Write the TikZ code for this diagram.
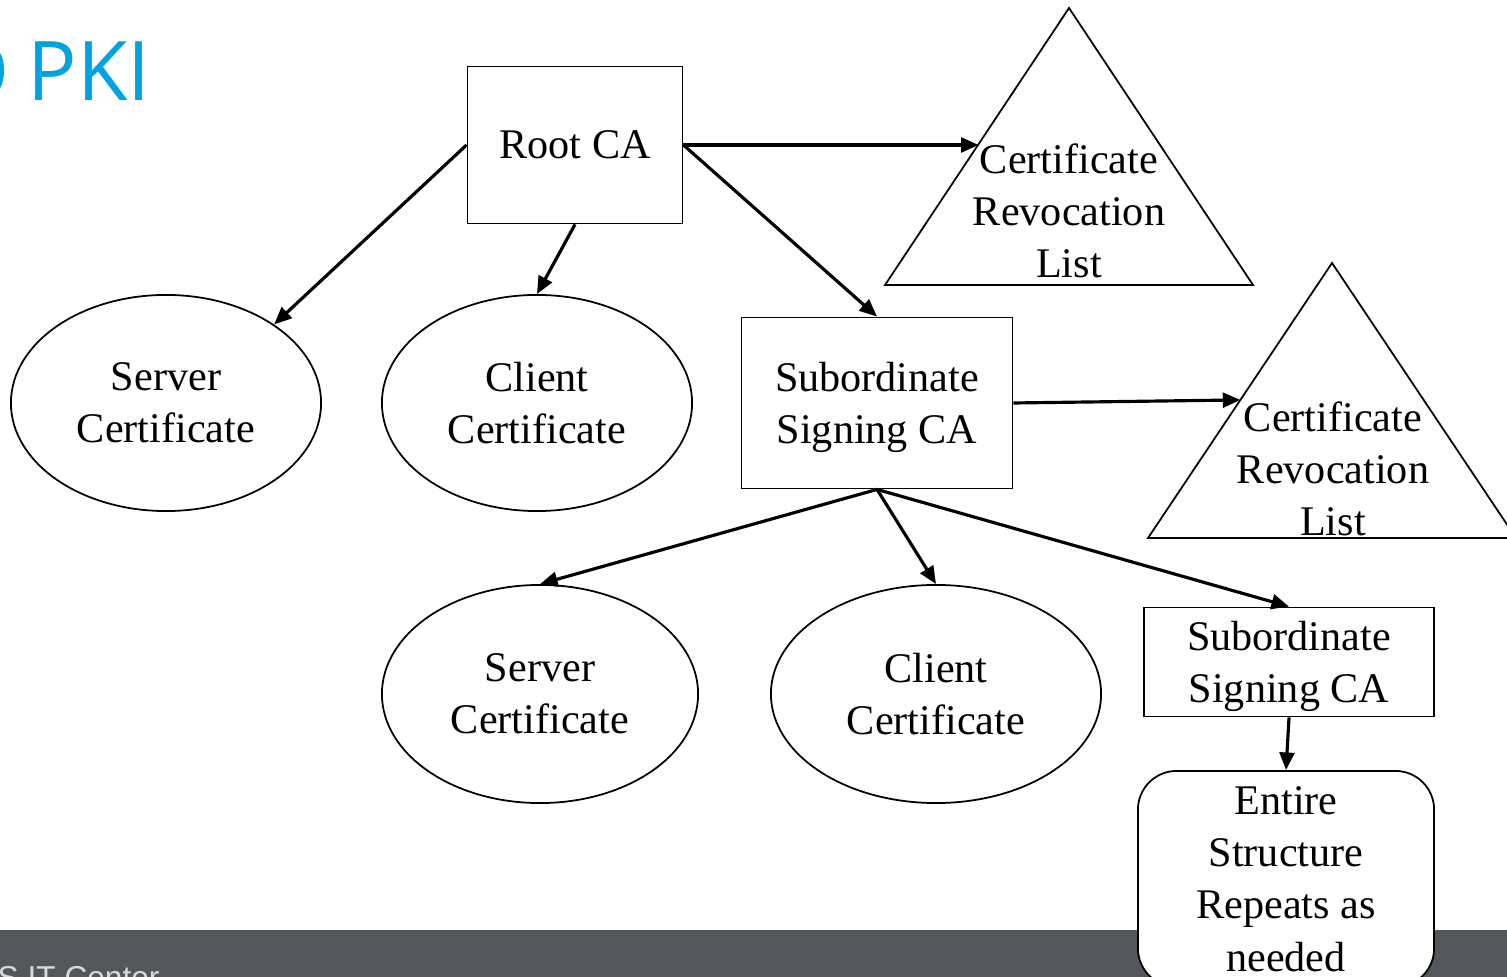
\documentclass[tikz,border=0pt]{standalone}
\usepackage{fontspec}
\setmainfont{Liberation Serif}
\newfontfamily\slidefont{Open Sans}
\newfontfamily\footfont{Liberation Sans}
\usetikzlibrary{shapes.geometric,arrows.meta,calc}
\definecolor{pkiblue}{HTML}{00A3E0}
\definecolor{bargray}{HTML}{53565B}
\definecolor{footgray}{HTML}{D9D9D9}
\tikzset{
  labeltext/.style={font=\fontsize{12pt}{14.8pt}\selectfont, align=center, inner sep=0pt},
  titletext/.style={text=pkiblue, inner sep=0pt, font=\slidefont\fontsize{23.4pt}{24pt}\selectfont},
  cabox/.style={draw, line width=0.5pt, fill=white, text depth=0pt, labeltext},
  cert/.style={ellipse, draw, line width=0.5pt, minimum width=3.1cm, minimum height=2.16cm, labeltext},
  crl/.style={draw, line width=0.5pt},
  link/.style={-{Triangle[length=5pt,width=4.2pt]}, line width=0.9pt},
}
\begin{document}
\begin{tikzpicture}[x=0.01cm,y=-0.01cm]
    \useasboundingbox (0,0) rectangle (1507,977);
    \fill[bargray] (0,930) rectangle (1507,977);
    \node[anchor=north west, text=footgray, inner sep=0pt, font=\footfont\fontsize{9pt}{9pt}\selectfont] (footer) at (-3,966) {S IT Center};
    \node[titletext, anchor=base east] (titlelead) at (10,101) {O};
    \node[titletext, anchor=base west] (title) at (27,101) {PKI};
    \node[cabox, minimum width=2.15cm, minimum height=1.57cm] (root) at (575,145) {Root CA};
    \node[cert] (srv1) at (166,403) {Server\\Certificate};
    \node[cert] (cli1) at (537,403) {Client\\Certificate};
    \node[cabox, minimum width=2.71cm, minimum height=1.71cm] (sub1) at (877,403) {Subordinate\\Signing CA};
    \node[cert, minimum width=3.16cm, minimum height=2.18cm] (srv2) at (540,694) {Server\\Certificate};
    \node[cert, minimum width=3.3cm, minimum height=2.18cm] (cli2) at (936,694) {Client\\Certificate};
    \node[cabox, minimum width=2.9cm, minimum height=1.09cm] (sub2) at (1289,662) {Subordinate\\Signing CA};
    \node[cabox, rounded corners=11pt, minimum width=2.96cm, minimum height=2.16cm] (rep) at (1286,879) {Entire\\Structure\\Repeats as\\needed};
    \draw[crl] (1069,8) coordinate (crl1top) -- (1253,285) coordinate (crl1right) -- (885,285) coordinate (crl1left) -- cycle;
    \node[labeltext] (crl1) at (1069,211) {Certificate\\Revocation\\List};
    \draw[crl] (1332,263) coordinate (crl2top) -- (1516,538) coordinate (crl2right) -- (1148,538) coordinate (crl2left) -- cycle;
    \node[labeltext] (crl2) at (1333,469) {Certificate\\Revocation\\List};
    \coordinate (crl1in) at ($(crl1top)!0.491!(crl1left)$);
    \coordinate (crl2in) at ($(crl2top)!0.498!(crl2left)$);
    \draw[link] (root.west) -- (srv1.36);
    \draw[link] (root.south) -- (cli1.north);
    \draw[link] (root.east) -- (root.east -| crl1in);
    \draw[link] (root.east) -- (sub1.north);
    \draw[link] (sub1.east) -- (crl2in);
    \draw[link] (sub1.south) -- (srv2.north);
    \draw[link] (sub1.south) -- (cli2.north);
    \draw[link] (sub1.south) -- (sub2.north);
    \draw[link] (sub2.south) -- (rep.north);
\end{tikzpicture}
\end{document}
